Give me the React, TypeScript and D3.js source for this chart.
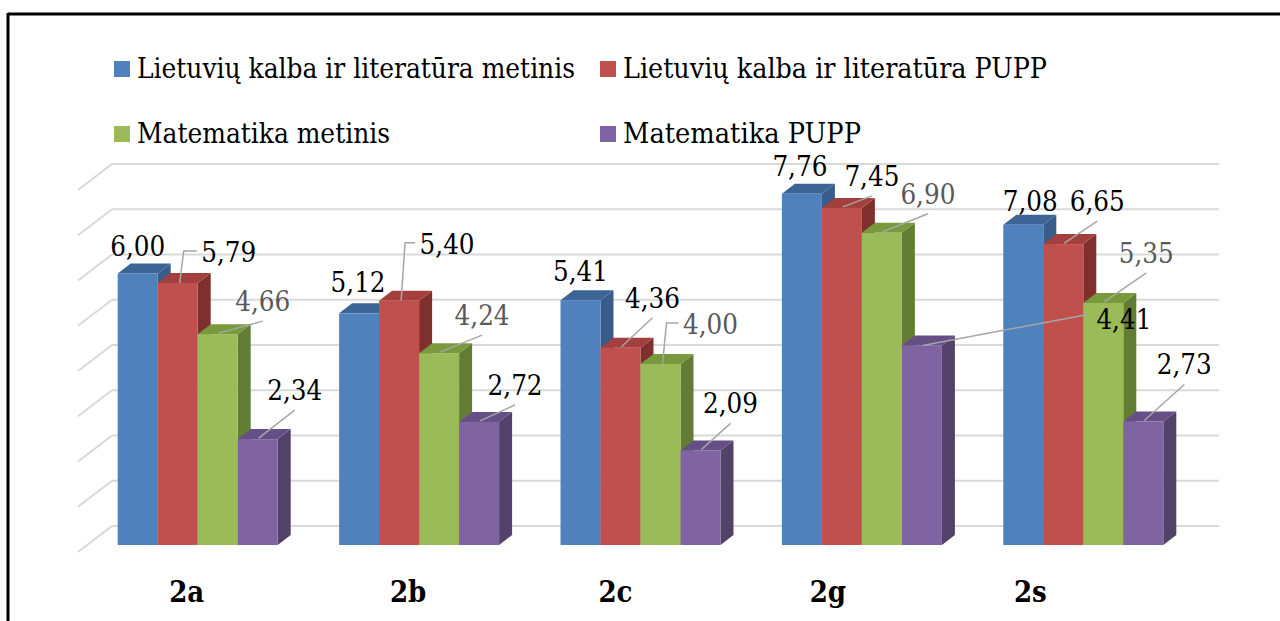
import React from "react";
import * as d3 from "d3";

// chart values
const categories = ["2a", "2b", "2c", "2g", "2s"];
const seriesNames = [
  "Lietuvių kalba ir literatūra metinis",
  "Lietuvių kalba ir literatūra PUPP",
  "Matematika metinis",
  "Matematika PUPP",
];
const lietuviuMetinis = [6.0, 5.12, 5.41, 7.76, 7.08];
const lietuviuPUPP = [5.79, 5.4, 4.36, 7.45, 6.65];
const matematikaMetinis = [4.66, 4.24, 4.0, 6.9, 5.35];
const matematikaPUPP = [2.34, 2.72, 2.09, 4.41, 2.73];
const yTicks = [0, 1, 2, 3, 4, 5, 6, 7, 8];

const seriesValues = [lietuviuMetinis, lietuviuPUPP, matematikaMetinis, matematikaPUPP];

// colours: front, top, side faces
const faceColors = [
  { front: "#4F81BD", top: "#3C6494", side: "#385D8A", label: "#000" },
  { front: "#C0504D", top: "#A3403D", side: "#7F302E", label: "#000" },
  { front: "#9BBB59", top: "#789A3D", side: "#637D35", label: "#595959" },
  { front: "#8064A2", top: "#664F86", side: "#524169", label: "#000" },
];

// label placement relative to the bar's top-front centre: [dx, dy, leader]
// leader: n = none, b = to label bottom, e = elbow to label left, l = straight to label left
const labelPlacement: [number, number, string][][] = [
  [[0, -18, "n"], [-1, -21, "n"], [0, -19, "n"], [-2, -18, "n"], [7, -14, "n"]],
  [[51, -21, "e"], [48, -47, "e"], [32, -40, "b"], [30, -22, "b"], [34, -33, "b"]],
  [[45, -23, "b"], [43, -28, "b"], [50, -30, "e"], [46, -29, "b"], [43, -40, "b"]],
  [[37, -39, "b"], [36, -27, "b"], [30, -37, "b"], [202, -16, "l"], [41, -47, "b"]],
];
const categoryShift = [-11, -11, -25, -34, -53];
// measured text widths of the legend entries
const legendWidths = [438, 424, 253, 238];

const W = 1280;
const H = 621;
const FONT = "'DejaVu Serif Condensed', 'DejaVu Serif', serif";

// 3d offsets
const depth = { dx: 13, dy: -10 }; // bar depth
const wall = { dx: 25, dy: -19 }; // from bar front plane to back wall
const side = { dx: -34, dy: 26 }; // left wall slant (back -> front)

const fmt = (v: number) => d3.format(".2f")(v).replace(".", ",");

export default function App() {
  const y = d3.scaleLinear().domain([0, 8]).range([545, 183]);
  const x0 = d3.scaleBand<string>().domain(categories).range([87, 1194]);
  const x1 = d3
    .scaleBand<string>()
    .domain(seriesNames)
    .range([0, 160]);
  const groupPad = (x0.bandwidth() - 160) / 2;
  const bw = x1.bandwidth();

  const backLeft = x0.range()[0] + wall.dx;
  const backRight = x0.range()[1] + wall.dx;

  const bars: React.ReactNode[] = [];
  const labels: React.ReactNode[] = [];

  categories.forEach((cat, ci) => {
    seriesNames.forEach((s, si) => {
      const v = seriesValues[si][ci];
      const c = faceColors[si];
      const xl = (x0(cat) ?? 0) + groupPad + (x1(s) ?? 0);
      const xr = xl + bw;
      const yt = y(v);
      const yb = y(0);
      const { dx, dy } = depth;
      bars.push(
        <g key={`${cat}-${s}`}>
          <polygon
            points={`${xr},${yt} ${xr + dx},${yt + dy} ${xr + dx},${yb + dy} ${xr},${yb}`}
            fill={c.side}
          />
          <polygon
            points={`${xl},${yt} ${xl + dx},${yt + dy} ${xr + dx},${yt + dy} ${xr},${yt}`}
            fill={c.top}
          />
          <rect x={xl} y={yt} width={bw} height={yb - yt} fill={c.front} />
        </g>
      );

      const [ldx, ldy, mode] = labelPlacement[si][ci];
      const ax = xl + bw / 2;
      const ay = yt;
      const tx = ax + ldx;
      const ty = ay + ldy;
      const halfW = 28;
      let leader: React.ReactNode = null;
      if (mode === "b") {
        leader = <line x1={ax + 1} y1={ay - 1} x2={tx} y2={ty + 10} />;
      } else if (mode === "e") {
        const my = ty - 11;
        leader = (
          <polyline
            fill="none"
            points={`${ax + 2},${ay} ${ax + 6},${my} ${tx - halfW - 4},${my}`}
          />
        );
      } else if (mode === "l") {
        leader = <line x1={ax + 1} y1={ay} x2={tx - halfW - 8} y2={ty - 15} />;
      }
      labels.push(
        <g key={`lab-${cat}-${s}`}>
          {leader && (
            <g stroke="#A6A6A6" strokeWidth={1.5}>
              {leader}
            </g>
          )}
          <text
            x={tx - 27.5}
            y={ty}
            fontSize={28}
            fill={c.label}
            textLength={55}
            lengthAdjust="spacingAndGlyphs"
            style={{ fontFamily: FONT }}
          >
            {fmt(v)}
          </text>
        </g>
      );
    });
  });

  const legendPos = [
    [114, 61],
    [600, 61],
    [114, 126],
    [600, 126],
  ];

  return (
    <svg
      width={W}
      height={H}
      style={{ position: "absolute", left: 0, top: 0, background: "#fff", fontFamily: FONT }}
    >
      {/* frame */}
      <line x1={8} y1={14} x2={W} y2={14} stroke="#000" strokeWidth={3} />
      <line x1={8} y1={13} x2={8} y2={H} stroke="#000" strokeWidth={3} />

      {/* walls gridlines */}
      <g stroke="#D9D9D9" strokeWidth={2} fill="none">
        {yTicks.map((t) => {
          const yb = y(t) + wall.dy;
          return (
            <g key={t}>
              <line x1={backLeft} y1={yb} x2={backRight} y2={yb} />
              <line x1={backLeft + side.dx} y1={yb + side.dy} x2={backLeft} y2={yb} />
            </g>
          );
        })}
      </g>

      {bars}
      {labels}

      {/* category labels */}
      {categories.map((cat, ci) => (
        <text
          key={cat}
          x={(x0(cat) ?? 0) + x0.bandwidth() / 2 + categoryShift[ci]}
          y={602}
          textAnchor="middle"
          fontSize={29}
          fontWeight="bold"
          style={{ fontFamily: FONT }}
        >
          {cat}
        </text>
      ))}

      {/* legend */}
      {seriesNames.map((s, i) => (
        <g key={s} transform={`translate(${legendPos[i][0]},${legendPos[i][1]})`}>
          <rect width={16} height={16} fill={faceColors[i].front} />
          <text
            x={23}
            y={17}
            fontSize={28}
            textLength={legendWidths[i]}
            lengthAdjust="spacingAndGlyphs"
            style={{ fontFamily: FONT }}
          >
            {s}
          </text>
        </g>
      ))}
    </svg>
  );
}
